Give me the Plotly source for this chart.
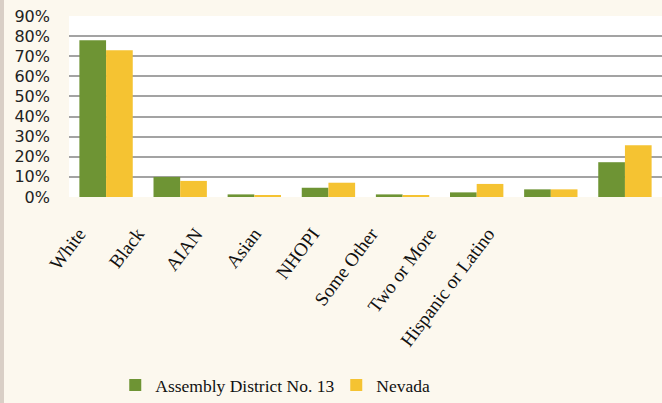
import plotly.graph_objects as go

categories = ["White", "Black", "AIAN", "Asian", "NHOPI", "Some Other", "Two or More", "Hispanic or Latino"]
district = [0.78, 0.10, 0.013, 0.046, 0.013, 0.023, 0.038, 0.173]
nevada = [0.73, 0.08, 0.010, 0.071, 0.008, 0.065, 0.038, 0.257]
series_names = ["Assembly District No. 13", "Nevada"]
ytick_vals = [0, 0.1, 0.2, 0.3, 0.4, 0.5, 0.6, 0.7, 0.8, 0.9]
ytick_text = ["0%", "10%", "20%", "30%", "40%", "50%", "60%", "70%", "80%", "90%"]

GREEN = "#6E9434"
YELLOW = "#F5C332"
BG = "#FCF8EE"

fig = go.Figure()
fig.add_trace(go.Bar(x=categories, y=district, name=series_names[0], marker=dict(color=GREEN, line=dict(width=0))))
fig.add_trace(go.Bar(x=categories, y=nevada, name=series_names[1], marker=dict(color=YELLOW, line=dict(width=0))))
# invisible trace carrying the category labels on a second x axis
fig.add_trace(go.Scatter(x=categories, y=[0] * len(categories), xaxis="x2", mode="markers",
                         marker=dict(opacity=0), showlegend=False, hoverinfo="skip"))

fig.update_layout(
    width=662, height=403,
    margin=dict(l=69, r=0, t=16, b=206, autoexpand=False),
    paper_bgcolor=BG, plot_bgcolor="white",
    barmode="group", bargap=0.28, bargroupgap=0,
    xaxis=dict(showticklabels=False, showgrid=False, zeroline=False, showline=False, ticks="",
               automargin=False, range=[-0.5, 7.5]),
    xaxis2=dict(overlaying="x", anchor="y", type="category", categoryorder="array", categoryarray=categories,
                range=[-0.171, 9.978], showgrid=False, zeroline=False, showline=False,
                tickangle=-53, ticks="", ticklabelstandoff=21, automargin=False,
                tickfont=dict(family="Liberation Serif", size=19, color="#111111")),
    yaxis=dict(range=[0, 0.9], tickvals=ytick_vals, ticktext=ytick_text, showgrid=True,
               gridcolor="#A3A3A3", gridwidth=2, zeroline=False, showline=False,
               ticklabelstandoff=18, automargin=False,
               tickfont=dict(family="DejaVu Sans", size=16, color="#222222")),
    legend=dict(orientation="h", x=0.078, xanchor="left", y=-1.04, yanchor="middle",
                font=dict(family="Liberation Serif", size=17.5, color="#111111"),
                bgcolor="rgba(0,0,0,0)", entrywidth=176, entrywidthmode="pixels"),
    shapes=[dict(type="rect", xref="paper", yref="paper", x0=-69/593, x1=-65/593, y0=-206/181, y1=1 + 16/181,
                 fillcolor="#D9CFC6", line=dict(width=0), layer="below")],
    showlegend=True,
)

fig.write_html("out.html", config={"displayModeBar": False},
               post_script="document.body.style.margin='0';document.body.style.background='" + BG + "';")
